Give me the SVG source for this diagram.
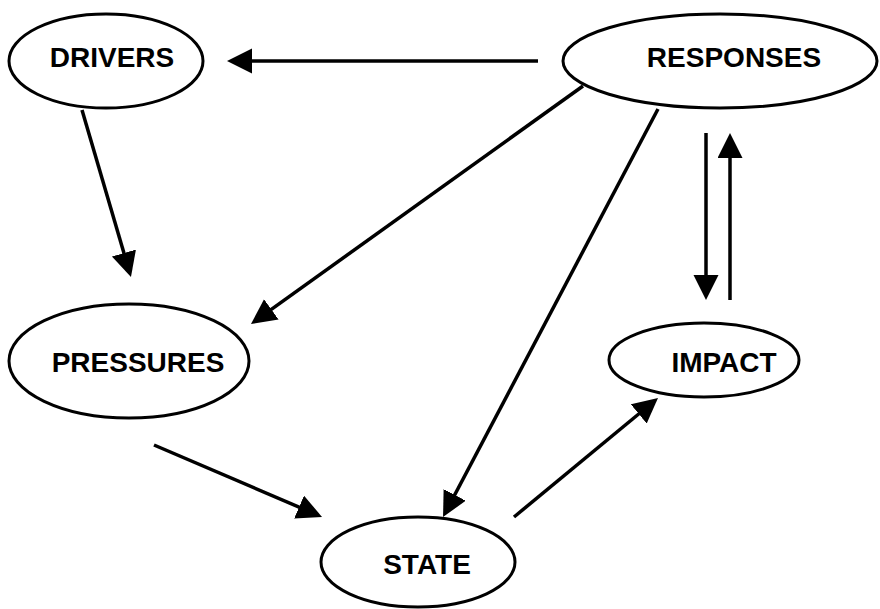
<svg xmlns="http://www.w3.org/2000/svg" width="880" height="609" viewBox="0 0 880 609">
<style>
.node ellipse{fill:#fff;stroke:#000;stroke-width:3}
.node text{font-family:"Liberation Sans",Arial,sans-serif;font-weight:bold;font-size:28px;fill:#000;text-anchor:middle}
.edge{stroke:#000;stroke-width:3.5;fill:none;marker-end:url(#ah)}
</style>
<defs>
<marker id="ah" markerUnits="userSpaceOnUse" markerWidth="26" markerHeight="26" refX="18" refY="12.5" orient="auto" viewBox="0 0 26 26">
<path d="M0,0 L25,12.5 L0,25 z" fill="#000"/>
</marker>
</defs>
<rect width="880" height="609" fill="#fff"/>
<g id="connectors">
<line class="edge" x1="538" y1="61" x2="234" y2="61"/>
<line class="edge" x1="82" y1="110" x2="129" y2="270.3"/>
<line class="edge" x1="583" y1="86" x2="256.7" y2="319.9"/>
<line class="edge" x1="658" y1="109" x2="446.3" y2="510.8"/>
<line class="edge" x1="154" y1="445" x2="315.6" y2="514.2"/>
<line class="edge" x1="514" y1="517" x2="652.6" y2="402.5"/>
<line class="edge" x1="706" y1="133" x2="706" y2="293"/>
<line class="edge" x1="730" y1="300" x2="730" y2="140"/>
</g>
<g id="drivers" class="node">
<ellipse cx="106" cy="61" rx="97" ry="47"/>
<text x="112" y="67">DRIVERS</text>
</g>
<g id="responses" class="node">
<ellipse cx="720" cy="61" rx="157" ry="47"/>
<text x="734" y="67">RESPONSES</text>
</g>
<g id="pressures" class="node">
<ellipse cx="129" cy="361" rx="120" ry="57"/>
<text x="138" y="372">PRESSURES</text>
</g>
<g id="impact" class="node">
<ellipse cx="704" cy="360" rx="95" ry="37"/>
<text x="724" y="372">IMPACT</text>
</g>
<g id="state" class="node">
<ellipse cx="418" cy="562" rx="97" ry="45"/>
<text x="427" y="574">STATE</text>
</g>
</svg>
